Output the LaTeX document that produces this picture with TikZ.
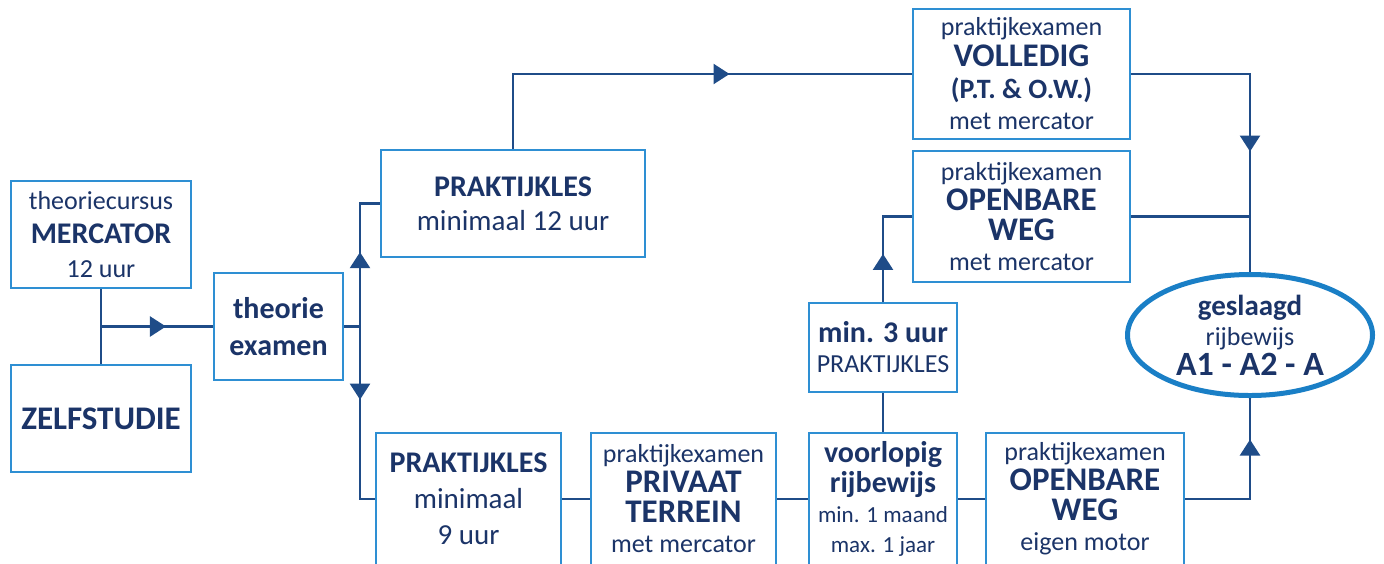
\documentclass[tikz,border=0pt]{standalone}
\usepackage{fontspec}
\setmainfont{Carlito}
\usetikzlibrary{shapes.geometric,decorations.markings,arrows.meta}
\definecolor{navy}{HTML}{1B3468}
\definecolor{boxblue}{HTML}{2E8FD3}
\definecolor{linkblue}{HTML}{1F4C88}
\definecolor{ringblue}{HTML}{1A7FC6}
\newcommand\vet[1]{{\fontsize{15}{15}\selectfont\bfseries #1}}
\newcommand\groot[1]{{\fontsize{16.5}{16.5}\selectfont\bfseries #1}}
\newcommand\klein[1]{{\fontsize{11.5}{12}\selectfont #1}}
\newcommand\ruim[1]{{\fontsize{14.5}{15}\selectfont #1}}

\begin{document}
\begin{tikzpicture}[x=0.5pt,y=-0.5pt,
  box/.style={draw=boxblue,line width=1pt,fill=white,text=navy,align=center,inner sep=0pt,
    font=\fontsize{13}{15}\selectfont},
  link/.style={draw=linkblue,line width=1.2pt},
  midarrow/.style={postaction={decorate},decoration={markings,
    mark=at position #1 with {\arrow[linkblue]{Triangle[width=10pt,length=8pt]}}}}]
\useasboundingbox (0,0) rectangle (1384,563);
\clip (0,0) rectangle (1384,563);

% theorie
\node[box,minimum width=90pt,minimum height=53.5pt] (mercator) at (101,234.5)
  {theoriecursus\\[2pt]\vet{MERCATOR}\\[2pt]12 uur};
\node[box,minimum width=90pt,minimum height=53.5pt] (zelf) at (101,418.5) {\groot{ZELFSTUDIE}};
\node[box,minimum width=64.5pt,minimum height=53.5pt] (theorie) at (278.5,326.5)
  {\vet{theorie}\\[3.5pt]\vet{examen}};

% praktijk
\node[box,minimum width=132pt,minimum height=53.5pt] (prak12) at (513,203.5)
  {\vet{PRAKTIJKLES}\\[2pt]\ruim{minimaal 12 uur}};
\node[box,minimum width=108.5pt,minimum height=65pt] (volledig) at (1021.5,74)
  {praktijkexamen\\[0.5pt]\groot{VOLLEDIG}\\[1pt]{\fontsize{14}{15}\selectfont\bfseries (P.T. \& O.W.)}\\[0.5pt]met mercator};
\node[box,minimum width=108.5pt,minimum height=65.5pt] (openweg) at (1021.5,216.5)
  {praktijkexamen\\\groot{OPENBARE}\\\groot{WEG}\\met mercator};
\node[box,minimum width=74pt,minimum height=44.5pt] (min3) at (883,347.5)
  {\vet{min. 3 uur}\\PRAKTIJKLES};
\node[box,minimum width=92.5pt,minimum height=66pt] (prak9) at (468.5,499)
  {\vet{PRAKTIJKLES}\\[3pt]\ruim{minimaal}\\[3pt]\ruim{9 uur}};
\node[box,minimum width=92.5pt,minimum height=66pt] (privaat) at (683.5,499)
  {praktijkexamen\\\groot{PRIVAAT}\\\groot{TERREIN}\\met mercator};
\node[box,minimum width=74pt,minimum height=66pt] (voorlopig) at (883,499)
  {\vet{voorlopig}\\\vet{rijbewijs}\\\klein{min. 1 maand}\\\klein{max. 1 jaar}};
\node[box,minimum width=99pt,minimum height=66pt] (eigen) at (1085,499)
  {praktijkexamen\\\groot{OPENBARE}\\\groot{WEG}\\eigen motor};

% rijbewijs
\node[ellipse,draw=ringblue,line width=2.5pt,fill=white,text=navy,align=center,inner sep=0pt,
  minimum width=122.5pt,minimum height=60.5pt,font=\fontsize{13}{15}\selectfont] (geslaagd) at (1250,335)
  {{\fontsize{14.5}{15}\selectfont\bfseries geslaagd}\\rijbewijs\\{\fontsize{17}{17}\selectfont\bfseries A1 - A2 - A}};

\coordinate (join) at (mercator.south |- theorie.west);
\coordinate (split) at (360,326.5);

\draw[link] (mercator) -- (zelf);
\draw[link,midarrow=0.58] (join) -- (theorie);
\draw[link] (theorie) -- (split);
\draw[link,midarrow=0.52] (split) -- (split |- prak12.west) -- (prak12.west);
\draw[link,midarrow=0.39] (split) -- (split |- prak9.west) -- (prak9.west);
\draw[link,midarrow=0.615] (prak12.north) -- (prak12.north |- volledig.west) -- (volledig.west);
\draw[link,midarrow=0.62] (volledig.east) -- (volledig.east -| geslaagd.north) -- (geslaagd.north);
\draw[link] (openweg.east) -- (openweg.east -| geslaagd.north);
\draw[link] (prak9) -- (privaat);
\draw[link] (privaat) -- (voorlopig);
\draw[link] (voorlopig) -- (eigen);
\draw[link,midarrow=0.75] (eigen.east) -- (eigen.east -| geslaagd.south) -- (geslaagd.south);
\draw[link] (voorlopig) -- (min3);
\draw[link,midarrow=0.42] (min3.north) -- (min3.north |- openweg.west) -- (openweg.west);
\end{tikzpicture}
\end{document}
